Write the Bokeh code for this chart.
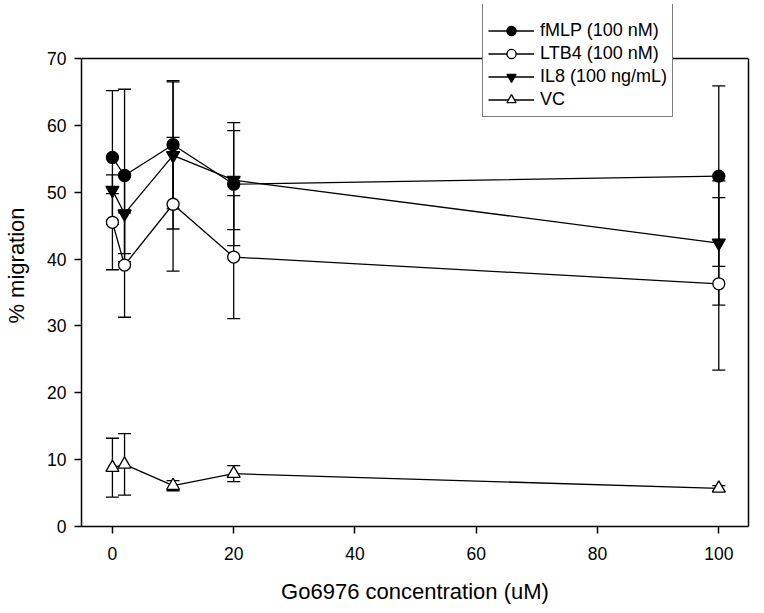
from bokeh.plotting import figure
from bokeh.models import (ColumnDataSource, Whisker, TeeHead, Range1d, Legend,
                          LegendItem, FixedTicker, LinearAxis, Span)
from bokeh.embed import file_html
from bokeh.resources import INLINE

# ---- data ----
conc = [0, 2, 10, 20, 100]

fmlp = [55.2, 52.5, 57.1, 51.2, 52.4]
fmlp_err = [10.0, 12.9, 9.6, 9.2, 13.5]

ltb4 = [45.5, 39.1, 48.2, 40.3, 36.3]
ltb4_err = [7.1, 7.8, 10.0, 9.2, 12.9]

il8 = [50.3, 46.8, 55.5, 51.8, 42.4]
il8_err = [0.5, 6.0, 11.0, 7.4, 9.3]

vc = [8.8, 9.3, 6.1, 7.9, 5.7]
vc_err = [4.4, 4.6, 0.75, 1.2, 0.4]

labels = ["fMLP (100 nM)", "LTB4 (100 nM)", "IL8 (100 ng/mL)", "VC"]
y_ticks = [0, 10, 20, 30, 40, 50, 60, 70]
x_ticks = [0, 20, 40, 60, 80, 100]
y_max = 70

FONT = "Liberation Sans"

# frame: top at 4px (so the legend can sit above the y=70 line), y=70 at 58px
FRAME_TOP, Y70_PX, FRAME_BOTTOM = 4, 58, 526
y_top = y_max * (FRAME_BOTTOM - FRAME_TOP) / (FRAME_BOTTOM - Y70_PX)

W, H = 758, 608
p = figure(width=W, height=H, output_backend="svg", toolbar_location=None,
           x_range=Range1d(-5.1, 104.9), y_range=Range1d(0, y_top),
           min_border_left=81, min_border_right=W - 748, min_border_top=FRAME_TOP,
           min_border_bottom=H - FRAME_BOTTOM, background_fill_color="white",
           border_fill_color="white")
p.grid.visible = False
p.outline_line_color = None

for ax in (p.xaxis[0], p.yaxis[0]):
    ax.axis_line_width = 1.5
    ax.major_tick_line_width = 1.5
    ax.major_tick_out = 7
    ax.major_tick_in = 0
    ax.minor_tick_out = 0
    ax.minor_tick_in = 0
    ax.major_label_text_font = FONT
    ax.major_label_text_font_size = "17.5px"
    ax.major_label_text_color = "black"
    ax.axis_label_text_font = FONT
    ax.axis_label_text_font_size = "22px"
    ax.axis_label_text_font_style = "normal"
    ax.axis_label_text_color = "black"

p.xaxis[0].ticker = FixedTicker(ticks=x_ticks)
p.yaxis[0].ticker = FixedTicker(ticks=y_ticks)
p.yaxis[0].bounds = (0, y_max)
p.xaxis[0].axis_label = "Go6976 concentration (uM)"
p.yaxis[0].axis_label = "% migration"
p.xaxis[0].major_label_standoff = 13
p.yaxis[0].major_label_standoff = 8
p.xaxis[0].axis_label_standoff = 16
p.yaxis[0].axis_label_standoff = 15

# right frame edge and top frame edge (only up to y = 70)
right_ax = LinearAxis(bounds=(0, y_max), ticker=FixedTicker(ticks=[]),
                      axis_line_width=1.5, major_tick_out=0, major_tick_in=0,
                      minor_tick_out=0, minor_tick_in=0,
                      major_label_text_font_size="0px")
p.add_layout(right_ax, "right")
p.add_layout(Span(location=y_max, dimension="width", line_color="black",
                  line_width=1.5))

series = [
    (fmlp, fmlp_err, "circle", "black", 12),
    (ltb4, ltb4_err, "circle", "white", 12),
    (il8, il8_err, "inverted_triangle", "black", 13),
    (vc, vc_err, "triangle", "white", 13),
]

items = []
line_rs = []
for (vals, errs, marker, fill, size), lab in zip(series, labels):
    src = ColumnDataSource(dict(
        x=conc, y=vals,
        upper=[v + e for v, e in zip(vals, errs)],
        lower=[v - e for v, e in zip(vals, errs)]))
    w = Whisker(source=src, base="x", upper="upper", lower="lower",
                dimension="height", line_color="black", line_width=1.3,
                upper_head=TeeHead(size=13, line_color="black", line_width=1.3),
                lower_head=TeeHead(size=13, line_color="black", line_width=1.3),
                level="underlay")
    p.add_layout(w)
    lr = p.line("x", "y", source=src, line_color="black", line_width=1.3)
    line_rs.append((lr, src, marker, fill, size, lab))

for lr, src, marker, fill, size, lab in line_rs:
    mr = p.scatter("x", "y", source=src, marker=marker, size=size,
                   fill_color=fill, line_color="black", line_width=1.3)
    items.append(LegendItem(label=lab, renderers=[lr, mr]))

LEG_H = 109
legend = Legend(items=items, location=(482 - 81, FRAME_BOTTOM - 8 - LEG_H),
                orientation="vertical",
                title=" ", title_text_font_size="2px", title_standoff=9,
                label_text_font=FONT, label_text_font_size="18px",
                label_text_color="black", label_height=23, glyph_height=23,
                glyph_width=46, label_standoff=6, spacing=0, padding=5,
                margin=0, border_line_color="black", border_line_width=1.5,
                background_fill_color="white", background_fill_alpha=1.0)
p.add_layout(legend, "center")

open("out.html", "w").write(file_html(p, INLINE))
